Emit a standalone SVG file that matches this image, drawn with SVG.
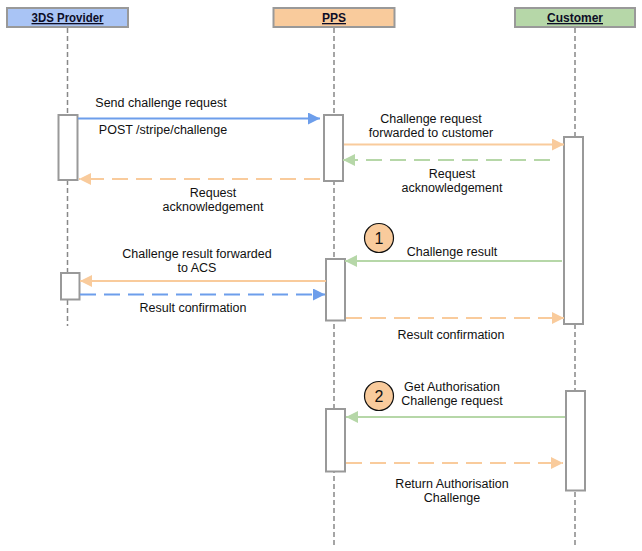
<svg xmlns="http://www.w3.org/2000/svg" width="642" height="551" viewBox="0 0 642 551">
<style>
text{font-family:"Liberation Sans",Arial,sans-serif;font-size:12.5px;fill:#111;}
.hdr{font-weight:bold;text-decoration:underline;text-anchor:middle;font-size:13px;fill:#0d0d26;}
.lbl{text-anchor:middle;}
.life{stroke:#888;stroke-width:1.5;stroke-dasharray:5 3;fill:none;}
.act{fill:#fff;stroke:#999;stroke-width:2;}
.hbox{stroke:#999;stroke-width:2;}
.blue{stroke:#6D9EEB;stroke-width:2;fill:none;}
.orange{stroke:#F9CB9C;stroke-width:2;fill:none;}
.green{stroke:#B6D7A8;stroke-width:2;fill:none;}
.dash{stroke-dasharray:16 8;}
.num{fill:#F9CB9C;stroke:#111;stroke-width:1.2;}
.numt{font-size:16px;text-anchor:middle;}
</style>
<defs>
<marker id="aBlue" markerWidth="12" markerHeight="12" refX="12" refY="6" orient="auto" markerUnits="userSpaceOnUse"><path d="M0,0 L12,6 L0,12 Z" fill="#6D9EEB"/></marker>
<marker id="aOrange" markerWidth="12" markerHeight="12" refX="12" refY="6" orient="auto" markerUnits="userSpaceOnUse"><path d="M0,0 L12,6 L0,12 Z" fill="#F9CB9C"/></marker>
<marker id="aGreen" markerWidth="12" markerHeight="12" refX="12" refY="6" orient="auto" markerUnits="userSpaceOnUse"><path d="M0,0 L12,6 L0,12 Z" fill="#B6D7A8"/></marker>
</defs>
<rect width="642" height="551" fill="#fff"/>

<g id="lifelines">
<line class="life" x1="67.5" y1="28" x2="67.5" y2="326"/>
<line class="life" x1="334" y1="28" x2="334" y2="546"/>
<line class="life" x1="575" y1="28" x2="575" y2="546"/>
</g>

<g id="provider">
<rect class="hbox" x="7" y="8" width="121" height="19" fill="#A9C4F5"/>
<text class="hdr" x="67.5" y="22" textLength="72" lengthAdjust="spacingAndGlyphs">3DS Provider</text>
</g>
<g id="pps">
<rect class="hbox" x="273.5" y="8" width="121" height="19" fill="#F9CB9C"/>
<text class="hdr" x="334" y="22" textLength="24" lengthAdjust="spacingAndGlyphs">PPS</text>
</g>
<g id="customer">
<rect class="hbox" x="515" y="8" width="120" height="19" fill="#B6D7A8"/>
<text class="hdr" x="575" y="22" textLength="56" lengthAdjust="spacingAndGlyphs">Customer</text>
</g>

<g id="activations">
<rect class="act" x="58.5" y="115" width="19" height="65"/>
<rect class="act" x="324" y="115" width="19" height="66"/>
<rect class="act" x="564" y="137" width="19" height="187"/>
<rect class="act" x="61" y="273" width="18.5" height="26.5"/>
<rect class="act" x="326" y="259" width="19" height="61.5"/>
<rect class="act" x="326" y="409" width="19" height="62.5"/>
<rect class="act" x="566" y="391" width="19" height="99.5"/>
</g>

<g id="connectors">
<line class="blue" x1="78" y1="118.5" x2="320" y2="118.5" marker-end="url(#aBlue)"/>
<line class="orange dash" x1="320" y1="179" x2="79" y2="179" marker-end="url(#aOrange)"/>
<line class="orange" x1="344" y1="144.5" x2="564" y2="144.5" marker-end="url(#aOrange)"/>
<line class="green dash" x1="550" y1="160" x2="343" y2="160" marker-end="url(#aGreen)"/>
<line class="green" x1="562" y1="261" x2="345" y2="261" marker-end="url(#aGreen)"/>
<line class="orange" x1="326" y1="281" x2="80" y2="281" marker-end="url(#aOrange)"/>
<line class="blue dash" x1="80" y1="294.5" x2="325" y2="294.5" marker-end="url(#aBlue)"/>
<line class="orange dash" x1="346" y1="318" x2="564" y2="318" marker-end="url(#aOrange)"/>
<line class="green" x1="565" y1="417" x2="346" y2="417" marker-end="url(#aGreen)"/>
<line class="orange dash" x1="346" y1="463" x2="563" y2="463" marker-end="url(#aOrange)"/>
</g>

<g id="labels">
<text class="lbl" x="161" y="107">Send challenge request</text>
<text class="lbl" x="163" y="134">POST /stripe/challenge</text>
<text class="lbl" x="213" y="197">Request</text>
<text class="lbl" x="213" y="211">acknowledgement</text>
<text class="lbl" x="431" y="123">Challenge request</text>
<text class="lbl" x="431" y="137">forwarded to customer</text>
<text class="lbl" x="452" y="178">Request</text>
<text class="lbl" x="452" y="192">acknowledgement</text>
<text class="lbl" x="452" y="256">Challenge result</text>
<text class="lbl" x="197" y="258">Challenge result forwarded</text>
<text class="lbl" x="197" y="272">to ACS</text>
<text class="lbl" x="193" y="312">Result confirmation</text>
<text class="lbl" x="451" y="339">Result confirmation</text>
<text class="lbl" x="452" y="391">Get Authorisation</text>
<text class="lbl" x="452" y="405">Challenge request</text>
<text class="lbl" x="452" y="488">Return Authorisation</text>
<text class="lbl" x="452" y="502">Challenge</text>
</g>

<g id="step1">
<circle class="num" cx="379" cy="238" r="14.5"/>
<text class="numt" x="379" y="244">1</text>
</g>
<g id="step2">
<circle class="num" cx="379" cy="396" r="14.5"/>
<text class="numt" x="379" y="402">2</text>
</g>
</svg>
